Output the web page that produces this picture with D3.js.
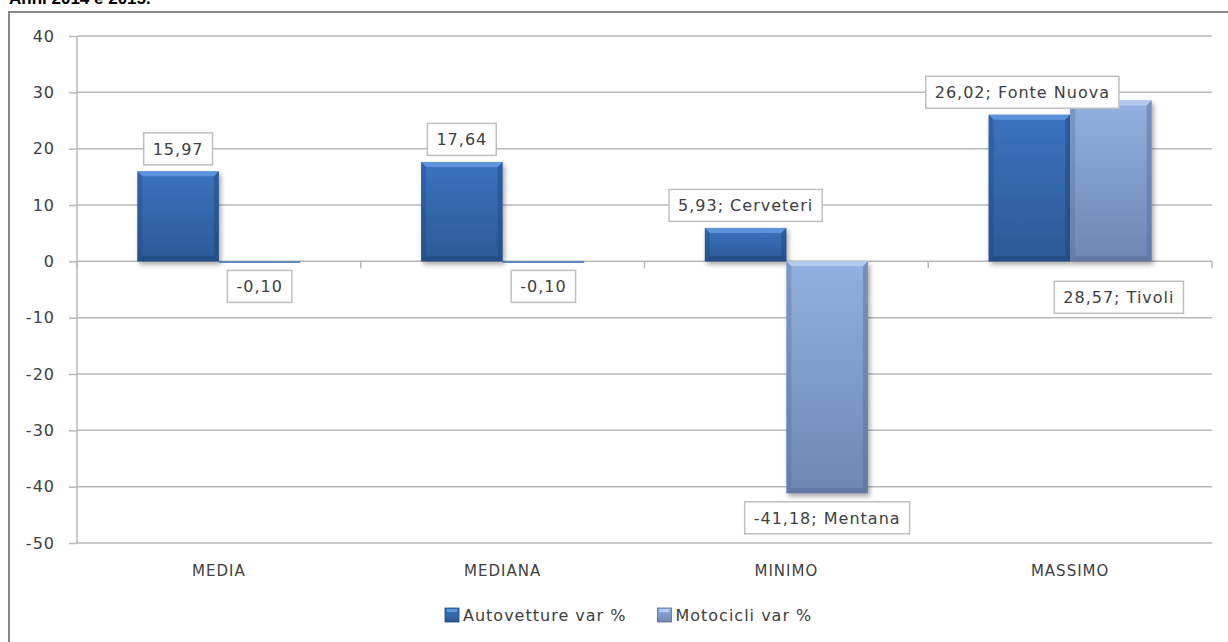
<!DOCTYPE html>
<html lang="it">
<head>
<meta charset="UTF-8">
<title>Autovetture e motocicli var %</title>
<script src="https://cdn.jsdelivr.net/npm/d3@7/dist/d3.min.js"></script>
<style>
    body { margin: 0; background: #fff; }
    text { font-family: "DejaVu Sans", sans-serif; }
</style>
</head>
<body>
<svg id="main" width="1228" height="642"></svg>
<script>
    // data
    const categories = ['MEDIA', 'MEDIANA', 'MINIMO', 'MASSIMO'];
    const seriesNames = ['Autovetture var %', 'Motocicli var %'];
    const autoValues = [15.97, 17.64, 5.93, 26.02];
    const motoValues = [-0.10, -0.10, -41.18, 28.57];
    const autoLabels = ['15,97', '17,64', '5,93; Cerveteri', '26,02; Fonte Nuova'];
    const motoLabels = ['-0,10', '-0,10', '-41,18; Mentana', '28,57; Tivoli'];
    const yTicks = [40, 30, 20, 10, 0, -10, -20, -30, -40, -50];

    const svg = d3.select('svg#main');
    const plotLeft = 77, plotRight = 1212, plotTop = 36, plotBottom = 543;

    const colors = [
        {light: '#5f97dd', top: '#3b73bf', bot: '#2b5996', dark: '#1f4577'},
        {light: '#b7cdef', top: '#92b0e0', bot: '#6e87b2', dark: '#566c93'}
    ];

    const defs = svg.append('defs');
    const shadow = defs.append('filter').attr('id', 'shadow')
        .attr('x', '-20%').attr('y', '-20%').attr('width', '140%').attr('height', '140%');
    shadow.append('feDropShadow').attr('dx', 2).attr('dy', 3)
        .attr('stdDeviation', 2.5).attr('flood-color', '#000').attr('flood-opacity', 0.35);
    colors.forEach((c, i) => {
        const g = defs.append('linearGradient').attr('id', 'grad' + i)
            .attr('x1', 0).attr('y1', 0).attr('x2', 0).attr('y2', 1);
        g.append('stop').attr('offset', '0%').attr('stop-color', c.top);
        g.append('stop').attr('offset', '100%').attr('stop-color', c.bot);
    });

    // title, cut at the top of the picture
    svg.append('text').attr('x', 9).attr('y', 4)
        .style('font-family', '"Liberation Sans", Arial, sans-serif')
        .style('font-weight', 'bold').style('font-size', '17px')
        .text('Anni 2014 e 2015.');

    // chart frame
    svg.append('rect').attr('x', 9).attr('y', 12)
        .attr('width', 1240).attr('height', 660)
        .attr('fill', 'none').attr('stroke', '#888').attr('stroke-width', 2);

    const y = d3.scaleLinear().domain([-50, 40]).range([plotBottom, plotTop]);
    const x0 = d3.scaleBand().domain(categories).range([plotLeft, plotRight]).padding(0);
    const x1 = d3.scaleBand().domain([0, 1]).range([0, x0.bandwidth()])
        .paddingInner(0).paddingOuter(0.74);

    // gridlines + y ticks
    const yAxis = svg.append('g')
        .attr('transform', 'translate(' + plotLeft + ',0)')
        .call(d3.axisLeft(y).tickValues(yTicks).tickSize(8).tickPadding(14)
            .tickFormat(d3.format('d')));
    yAxis.select('.domain').remove();
    yAxis.selectAll('.tick line').attr('stroke', '#b8b8b8').attr('stroke-width', 1.5);
    yAxis.selectAll('.tick text').attr('fill', '#404040')
        .style('font-size', '16px').style('letter-spacing', '1px')
        .text(d => String(d));

    svg.append('g').selectAll('line').data(yTicks).enter().append('line')
        .attr('x1', plotLeft).attr('x2', plotRight)
        .attr('y1', d => y(d)).attr('y2', d => y(d))
        .attr('stroke', '#b8b8b8').attr('stroke-width', 1.5);
    svg.append('line').attr('x1', plotLeft).attr('x2', plotLeft)
        .attr('y1', plotTop).attr('y2', plotBottom)
        .attr('stroke', '#b8b8b8').attr('stroke-width', 1.5);

    // category axis at zero
    const xAxis = svg.append('g')
        .attr('transform', 'translate(0,' + y(0) + ')');
    xAxis.selectAll('line').data(d3.range(categories.length + 1)).enter().append('line')
        .attr('x1', i => plotLeft + i * x0.step()).attr('x2', i => plotLeft + i * x0.step())
        .attr('y1', 0).attr('y2', 7)
        .attr('stroke', '#b8b8b8').attr('stroke-width', 1.5);

    svg.append('g').selectAll('text').data(categories).enter().append('text')
        .attr('x', d => x0(d) + x0.bandwidth() / 2).attr('y', 576)
        .attr('text-anchor', 'middle').attr('fill', '#404040')
        .style('font-size', '15px').style('letter-spacing', '1px')
        .text(d => d);

    // bevelled bars
    function drawBar(g, x, w, v, c, gi) {
        const y0 = Math.min(y(0), y(v)), h = Math.abs(y(v) - y(0));
        const bar = g.append('g').attr('filter', 'url(#shadow)');
        bar.append('rect').attr('x', x).attr('y', y0).attr('width', w).attr('height', h)
            .attr('fill', 'url(#grad' + gi + ')');
        const b = Math.min(5, h / 2);
        const x2 = x + w, y2 = y0 + h;
        bar.append('path').attr('fill', c.light).attr('opacity', 0.9)
            .attr('d', `M${x},${y0}L${x2},${y0}L${x2 - b},${y0 + b}L${x + b},${y0 + b}Z`);
        bar.append('path').attr('fill', c.dark).attr('opacity', 0.55)
            .attr('d', `M${x},${y2}L${x2},${y2}L${x2 - b},${y2 - b}L${x + b},${y2 - b}Z`);
        bar.append('path').attr('fill', c.dark).attr('opacity', 0.35)
            .attr('d', `M${x},${y0}L${x + b},${y0 + b}L${x + b},${y2 - b}L${x},${y2}Z`);
        bar.append('path').attr('fill', c.dark).attr('opacity', 0.45)
            .attr('d', `M${x2},${y0}L${x2 - b},${y0 + b}L${x2 - b},${y2 - b}L${x2},${y2}Z`);
    }

    const barLayer = svg.append('g');
    [autoValues, motoValues].forEach((vals, si) => {
        vals.forEach((v, ci) => {
            const xx = x0(categories[ci]) + x1(si);
            if (Math.abs(y(v) - y(0)) < 2) {
                barLayer.append('rect').attr('x', xx).attr('y', y(0))
                    .attr('width', x1.bandwidth()).attr('height', 1.5)
                    .attr('fill', colors[0].top);
            } else {
                drawBar(barLayer, xx, x1.bandwidth(), v, colors[si], si);
            }
        });
    });

    // data labels in boxes
    const labelNudge = {'3-0': [-7, null], '3-1': [8, 'below']};
    const labelLayer = svg.append('g');
    [autoLabels, motoLabels].forEach((labs, si) => {
        const vals = si === 0 ? autoValues : motoValues;
        labs.forEach((lab, ci) => {
            const v = vals[ci];
            const nudge = labelNudge[ci + '-' + si] || [0, null];
            const cx = x0(categories[ci]) + x1(si) + x1.bandwidth() / 2 + nudge[0];
            let cy;
            if (nudge[1] === 'below') cy = y(0) + 36;
            else if (v >= 0) cy = y(v) - 22.5;
            else cy = Math.max(y(v), y(0)) + 24.5;
            const g = labelLayer.append('g');
            const t = g.append('text').attr('x', cx).attr('y', cy + 6)
                .attr('text-anchor', 'middle').attr('fill', '#404040')
                .style('font-size', '16px').style('letter-spacing', '1px')
                .text(lab);
            const tw = t.node().getComputedTextLength();
            g.insert('rect', 'text').attr('x', cx - tw / 2 - 9).attr('y', cy - 16)
                .attr('width', tw + 18).attr('height', 32)
                .attr('fill', '#fff').attr('stroke', '#bfbfbf').attr('stroke-width', 1.5);
        });
    });

    // legend
    const legend = svg.append('g').attr('transform', 'translate(445,615)');
    let lx = 0;
    seriesNames.forEach((name, i) => {
        const c = colors[i];
        legend.append('rect').attr('x', lx).attr('y', -7).attr('width', 14).attr('height', 14)
            .attr('fill', 'url(#grad' + i + ')').attr('stroke', c.dark).attr('stroke-width', 0.8);
        legend.append('rect').attr('x', lx + 2).attr('y', -6).attr('width', 10).attr('height', 3)
            .attr('fill', c.light);
        const t = legend.append('text').attr('x', lx + 18).attr('y', 6)
            .attr('fill', '#404040').style('font-size', '16px').style('letter-spacing', '1px')
            .text(name);
        lx += 18 + t.node().getComputedTextLength() + 31;
    });
</script>
</body>
</html>
